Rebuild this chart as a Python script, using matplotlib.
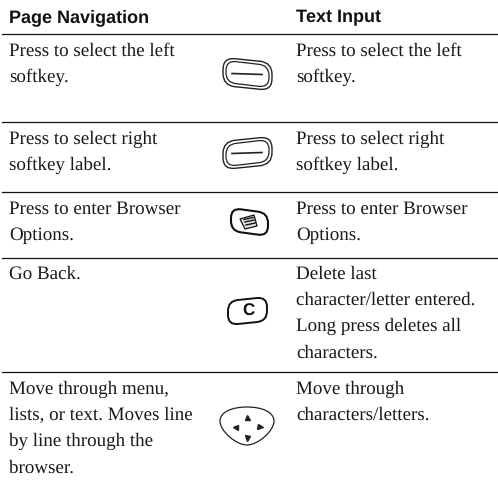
#! /usr/bin/env python3

import matplotlib
matplotlib.use("Agg")
import matplotlib.pyplot as plt
from matplotlib.patches import PathPatch, Polygon
from matplotlib.path import Path

headers = ["Page Navigation", "Text Input"]

left_rows = [
    ["Press to select the left", "softkey."],
    ["Press to select right", "softkey label."],
    ["Press to enter Browser", "Options."],
    ["Go Back."],
    ["Move through menu,", "lists, or text. Moves line", "by line through the", "browser."],
]
right_rows = [
    ["Press to select the left", "softkey."],
    ["Press to select right", "softkey label."],
    ["Press to enter Browser", "Options."],
    ["Delete last", "character/letter entered.", "Long press deletes all", "characters."],
    ["Move through", "characters/letters."],
]

rules_y = [34.5, 122, 192, 258, 372]
first_baseline = [55.5, 143.5, 213.5, 278.5, 393.5]
line_step = 26.4

plt.rcParams["text.hinting"] = "none"
plt.rcParams["text.hinting_factor"] = 1

fig = plt.figure(figsize=(4.98, 4.86), dpi=100)
ax = fig.add_axes([0, 0, 1, 1])
ax.set_xlim(0, 498)
ax.set_ylim(486, 0)
ax.axis("off")

# Cabecalhos e linhas da tabela.
ax.text(9, 22, headers[0], family="Liberation Sans", weight="bold", fontsize=13, color="#111111")
ax.text(296, 22, headers[1], family="Liberation Sans", weight="bold", fontsize=13, color="#111111")
for y in rules_y:
    ax.plot([2, 498], [y, y], color="#111111", linewidth=0.9)

for x, rows in [(9, left_rows), (296, right_rows)]:
    for base, lines in zip(first_baseline, rows):
        for i, line in enumerate(lines):
            ax.text(x, base + i * line_step, line, family="Liberation Serif",
                    fontsize=14, color="#1a1a1a")


def rounded_quad(corners, r, lw, color="#222222"):
    # Quadrilatero com cantos arredondados (curvas quadraticas).
    verts, codes = [], []
    n = len(corners)
    for i in range(n):
        cx, cy = corners[i]
        px, py = corners[i - 1]
        nx, ny = corners[(i + 1) % n]
        d1 = ((px - cx) ** 2 + (py - cy) ** 2) ** 0.5
        d2 = ((nx - cx) ** 2 + (ny - cy) ** 2) ** 0.5
        a = (cx + (px - cx) * r / d1, cy + (py - cy) * r / d1)
        b = (cx + (nx - cx) * r / d2, cy + (ny - cy) * r / d2)
        verts += [a, (cx, cy), b]
        codes += [Path.MOVETO if i == 0 else Path.LINETO, Path.CURVE3, Path.CURVE3]
    verts.append(verts[0])
    codes.append(Path.LINETO)
    ax.add_patch(PathPatch(Path(verts, codes), fill=False, edgecolor=color, linewidth=lw))


def softkey(cy, tilt):
    # Tecla com contorno duplo.
    rounded_quad([(223, cy - 14 - tilt), (272, cy - 14 + tilt),
                  (272, cy + 14 + tilt), (223, cy + 14 - tilt)], 12, 1.0)
    rounded_quad([(226, cy - 11 - tilt), (269, cy - 11 + tilt),
                  (269, cy + 11 + tilt), (226, cy + 11 - tilt)], 10, 0.9)
    ax.plot([232, 262], [cy - tilt * 0.2, cy + tilt * 0.2], color="#222222", linewidth=1.2)


softkey(74, 2.5)
softkey(153, -2.5)

# Tecla do navegador.
rounded_quad([(231, 208), (268, 213), (268, 236), (231, 231)], 10, 1.5, "#111111")
ax.add_patch(Polygon([(240, 219), (254, 215), (257, 226), (245, 229)], facecolor="#dddddd",
                     edgecolor="#111111", linewidth=0.9))
for x0, y0, x1, y1 in [(244, 219.5, 253, 217.5), (245, 222, 254, 220), (246, 225, 255, 223)]:
    ax.plot([x0, x1], [y0, y1], color="#111111", linewidth=1.0)

# Tecla C.
rounded_quad([(228, 301), (267, 297), (267, 321), (228, 325)], 10, 1.4, "#111111")
ax.text(248, 311, "C", family="Liberation Sans", weight="bold", fontsize=12.5,
        ha="center", va="center", color="#111111")

# Tecla de navegacao.
nav = [(247, 407), (262, 407), (274, 412), (274, 421),
       (274, 431), (258, 445), (247, 445),
       (236, 445), (220, 431), (220, 421),
       (220, 412), (232, 407), (247, 407)]
nav_codes = [Path.MOVETO] + [Path.CURVE4] * 12
ax.add_patch(PathPatch(Path(nav, nav_codes), fill=False, edgecolor="#222222", linewidth=0.9))
for mx, my, m in [(247, 417, "^"), (247, 438, "v"), (235, 427, "<"), (260, 427, ">")]:
    ax.plot(mx, my, marker=m, markersize=3.6, color="#222222", linestyle="none")

fig.savefig("out.png", dpi=100)
